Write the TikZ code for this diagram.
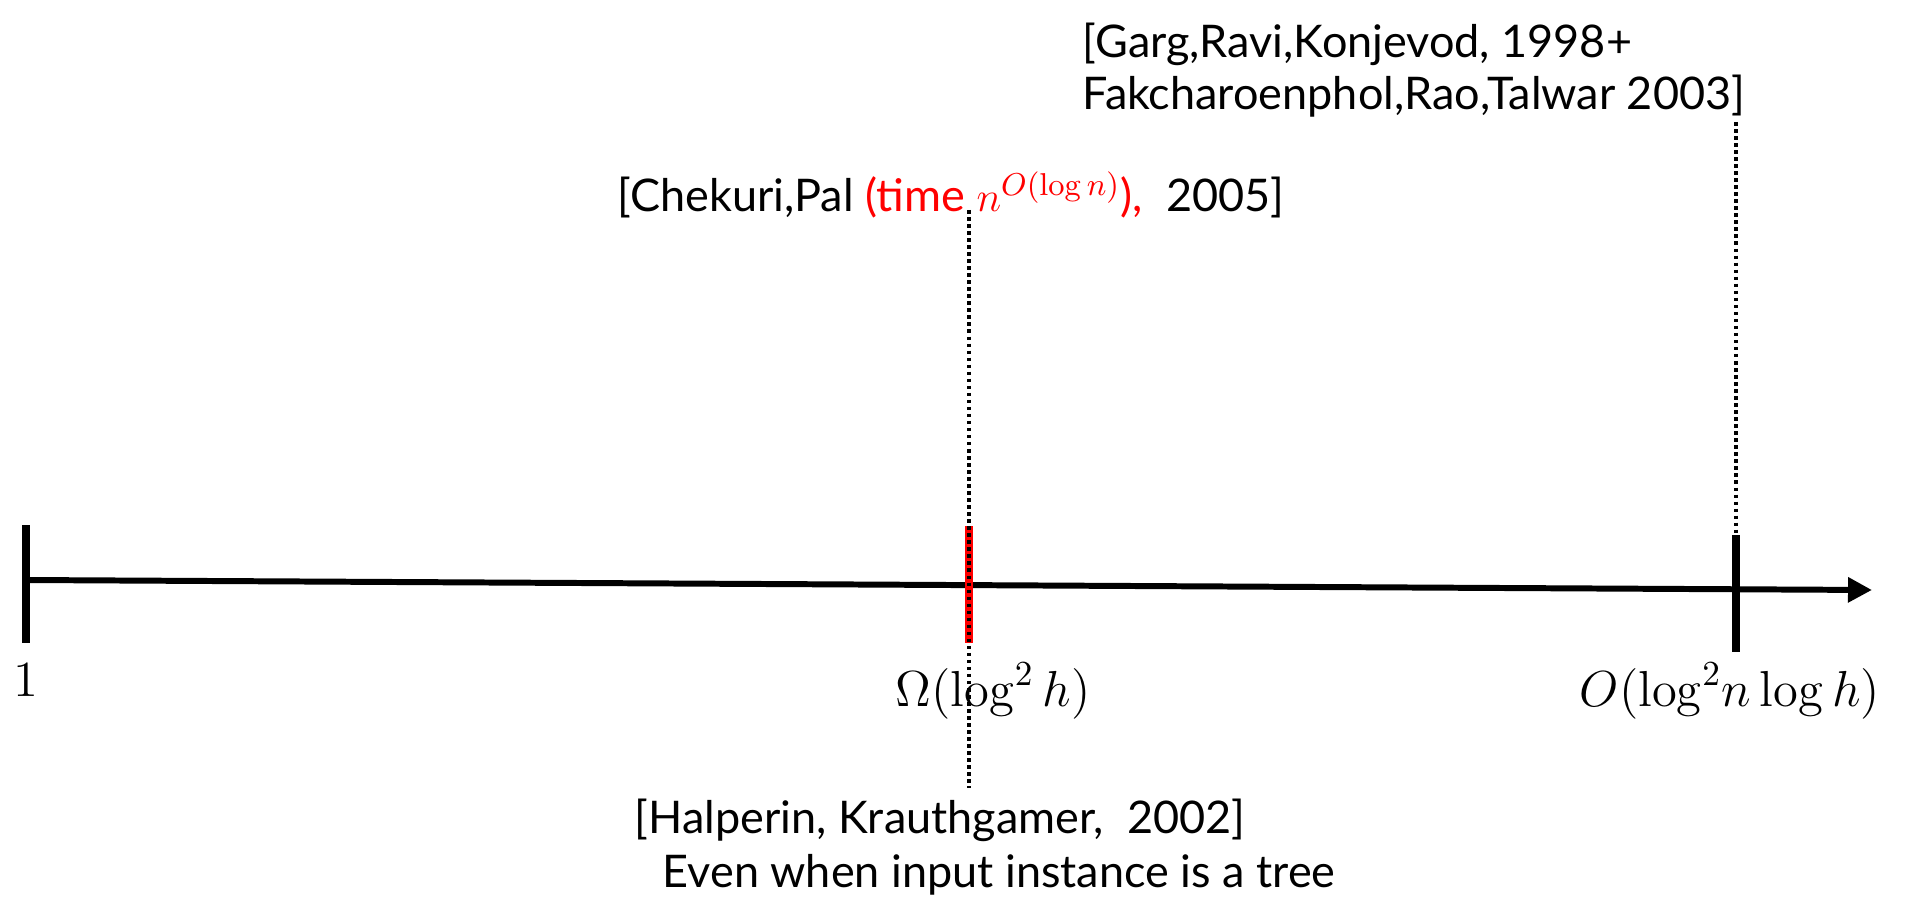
\documentclass[tikz,border=0pt]{standalone}
\usepackage{amsmath,amssymb}
\usepackage[no-math]{fontspec}
\setmainfont{Lato}
\usepackage{xcolor}
\usepackage{tikz}
\usetikzlibrary{positioning,calc,arrows.meta}

\begin{document}
\begin{tikzpicture}[tick/.style={line width=2.3pt},
    guide/.style={line width=0.9pt, dash pattern=on 1pt off 1pt},
    cite/.style={inner sep=0pt, font=\fontsize{12.8}{14.8}\selectfont},
    val/.style={inner sep=0pt, font=\fontsize{14.5}{16}\selectfont}]
    \useasboundingbox (0,0) rectangle (19.11,-9.01);
    % the scale
    \coordinate (start) at (0.26,-5.80);
    \coordinate (stop) at (18.72,-5.90);
    \draw[line width=1.7pt, -{Triangle[length=0.24cm,width=0.24cm]}] (start) -- (stop);
    \draw[tick] (0.26,-5.25) -- (0.26,-6.43);
    \draw[tick, red] (9.69,-5.26) coordinate (lbTop) -- (9.69,-6.43) coordinate (lbBot);
    \draw[tick] (17.36,-5.35) coordinate (ubTop) -- (17.36,-6.52) coordinate (ubBot);
    % values on the scale
    \node[val] (one) at (0.26,-6.80) {$1$};
    \node[val] (lb) at (9.93,-6.91) {$\Omega(\log^2 h)$};
    \node[val] (ub) at (17.30,-6.91) {$O(\log^2\!n\log h)$};
    % references
    \node[cite, anchor=west, align=left] (garg) at (10.82,-0.70)
        {[Garg,Ravi,Konjevod, 1998+\\Fakcharoenphol,Rao,Talwar 2003]};
    \node[cite] (chekuri) at (9.51,-1.95)
        {[Chekuri,Pal \textcolor{red}{(time $n^{O(\log n)}$),}\ \ 2005]};
    \node[cite, anchor=west] (halperin) at (6.34,-8.20) {[Halperin, Krauthgamer,\ \ 2002]};
    \node[cite, anchor=west] (tree) at (6.62,-8.75) {Even when input instance is a tree};
    % dotted guides
    \draw[guide] (9.69,-2.10) -- (9.69,-7.88);
    \draw[guide] (17.36,-1.22) -- (ubTop);
\end{tikzpicture}
\end{document}
